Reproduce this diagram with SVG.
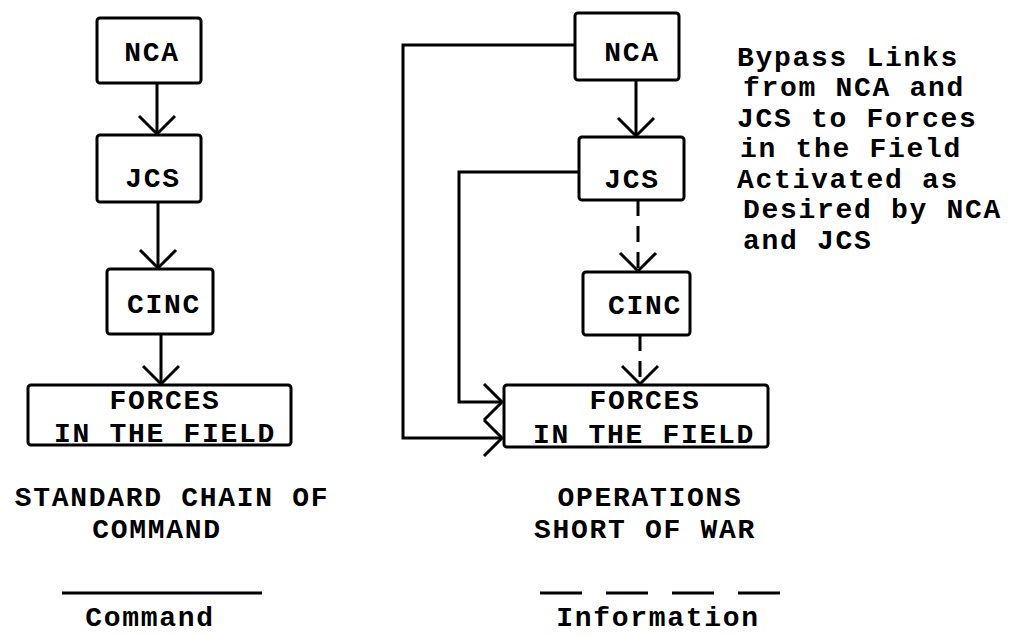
<svg xmlns="http://www.w3.org/2000/svg" width="1015" height="635" viewBox="0 0 1015 635">
<style>
  .box { fill: #ffffff; stroke: #000000; stroke-width: 3; }
  .lbl { font-family: "Liberation Mono", "Courier New", monospace; font-weight: bold; font-size: 28px; letter-spacing: 1.7px; fill: #000000; }
  .mid { text-anchor: middle; }
  .wire { fill: none; stroke: #000000; stroke-width: 3; }
  .dash { stroke-dasharray: 16 10; }
</style>
<defs>
  <marker id="vee" markerUnits="userSpaceOnUse" viewBox="0 0 24 42" refX="21" refY="21" markerWidth="24" markerHeight="42" orient="auto">
    <path d="M3,3 L21,21 L3,39" fill="none" stroke="#000000" stroke-width="3" stroke-dasharray="none"/>
  </marker>
</defs>
<rect width="1015" height="635" fill="#ffffff"/>

<g id="connectors">
  <line class="wire" x1="157" y1="83" x2="157" y2="134" marker-end="url(#vee)"/>
  <line class="wire" x1="158" y1="202" x2="158" y2="268" marker-end="url(#vee)"/>
  <line class="wire" x1="161" y1="334" x2="161" y2="384" marker-end="url(#vee)"/>
  <line class="wire" x1="636" y1="80" x2="636" y2="136" marker-end="url(#vee)"/>
  <line class="wire dash" x1="638" y1="200" x2="638" y2="271" marker-end="url(#vee)"/>
  <line class="wire dash" x1="640" y1="335" x2="640" y2="384" marker-end="url(#vee)"/>
  <polyline class="wire" points="575,45 403,45 403,438 502,438" marker-end="url(#vee)"/>
  <polyline class="wire" points="579,172 459,172 459,402 502,402" marker-end="url(#vee)"/>
</g>

<g id="nca-left">
  <rect class="box" x="97" y="18" width="104" height="65" rx="3"/>
  <text class="lbl mid" x="152" y="61">NCA</text>
</g>
<g id="jcs-left">
  <rect class="box" x="97" y="135" width="104" height="67" rx="3"/>
  <text class="lbl mid" x="153" y="187">JCS</text>
</g>
<g id="cinc-left">
  <rect class="box" x="107" y="269" width="106" height="65" rx="3"/>
  <text class="lbl mid" x="164" y="313">CINC</text>
</g>
<g id="forces-left">
  <rect class="box" x="28" y="385" width="263" height="60" rx="3"/>
  <text class="lbl mid" x="165" y="409">FORCES</text>
  <text class="lbl mid" x="165" y="442">IN THE FIELD</text>
</g>

<g id="nca-right">
  <rect class="box" x="575" y="13" width="104" height="67" rx="3"/>
  <text class="lbl mid" x="632" y="61">NCA</text>
</g>
<g id="jcs-right">
  <rect class="box" x="579" y="137" width="105" height="63" rx="3"/>
  <text class="lbl mid" x="632" y="188">JCS</text>
</g>
<g id="cinc-right">
  <rect class="box" x="583" y="272" width="107" height="63" rx="3"/>
  <text class="lbl mid" x="645" y="314">CINC</text>
</g>
<g id="forces-right">
  <rect class="box" x="504" y="385" width="264" height="62" rx="3"/>
  <text class="lbl mid" x="645" y="409">FORCES</text>
  <text class="lbl mid" x="644" y="443">IN THE FIELD</text>
</g>

<g id="bypass-note">
  <text class="lbl" x="737" y="66">Bypass Links</text>
  <text class="lbl" x="743" y="96">from NCA and</text>
  <text class="lbl" x="737" y="127">JCS to Forces</text>
  <text class="lbl" x="740" y="157">in the Field</text>
  <text class="lbl" x="737" y="188">Activated as</text>
  <text class="lbl" x="743" y="218">Desired by NCA</text>
  <text class="lbl" x="743" y="249">and JCS</text>
</g>

<g id="caption-left">
  <text class="lbl mid" x="172" y="506">STANDARD CHAIN OF</text>
  <text class="lbl mid" x="157" y="538">COMMAND</text>
</g>
<g id="caption-right">
  <text class="lbl mid" x="650" y="506">OPERATIONS</text>
  <text class="lbl mid" x="645" y="538">SHORT OF WAR</text>
</g>

<g id="legend">
  <line class="wire" x1="62" y1="593" x2="262" y2="593"/>
  <text class="lbl mid" x="150" y="626">Command</text>
  <line class="wire" x1="540" y1="593" x2="780" y2="593" stroke-dasharray="42 24"/>
  <text class="lbl mid" x="658" y="626">Information</text>
</g>
</svg>
